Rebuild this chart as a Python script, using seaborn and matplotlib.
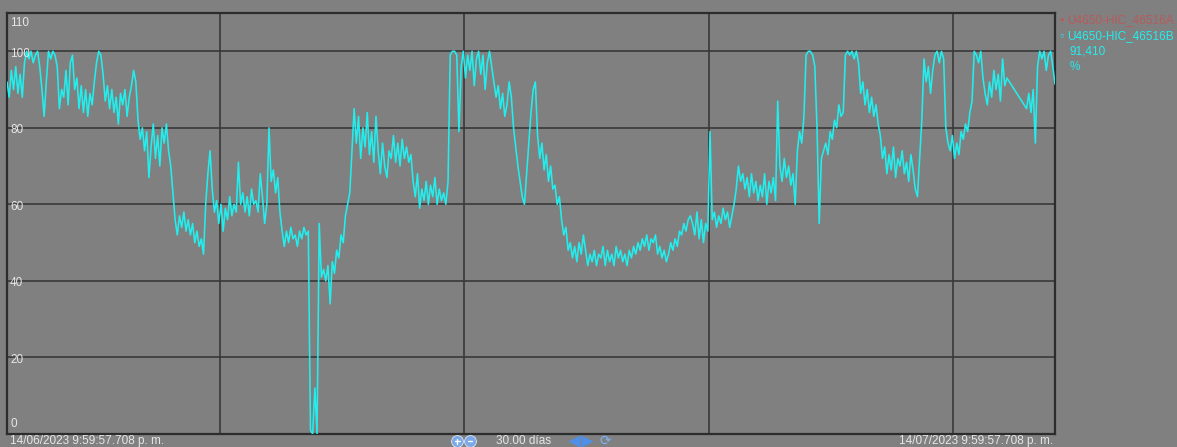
import numpy as np
import pandas as pd
import matplotlib
matplotlib.use("Agg")
import matplotlib.pyplot as plt
from matplotlib.lines import Line2D
import seaborn as sns

# --- data -------------------------------------------------------------------
inicio = pd.Timestamp("2023-06-14 21:59:57.708")
fin = pd.Timestamp("2023-07-14 21:59:57.708")
etiqueta_inicio = "14/06/2023 9:59:57.708 p. m."
etiqueta_fin = "14/07/2023 9:59:57.708 p. m."
ventana = "30.00 días"

series = ["U4650-HIC_46516A", "U4650-HIC_46516B"]
unidad = "%"

marcas_y = [0, 20, 40, 60, 80, 100, 110]
semanas = ["2023-06-21", "2023-06-28", "2023-07-05", "2023-07-12"]

# U4650-HIC_46516B, evenly spaced readings (None = no reading logged)
valores_b = [
    92, 88, 95, 90, 96, 89, 94, 88, 97,
    100, 98, 100, 97, 99, 100, 96,
    90, 83, 92,
    100, 98, 100, 99, 96,
    85, 90,
    88, 95, 86, 97, 99, 90, 93,
    85, 91, 84, 90, 83, 89, 86, 92,
    97, 100, 99, 94,
    87, 91, 85, 90, 84, 88, 81, 89, 86, 90, 83, 88,
    91, 95, 92,
    82, 77,
    80, 74, 79, 67, 75, 81, 72, 78, 70, 80, 76, 81, 74, 70,
    63, 56, 52,
    57, 54, 58, 53, 56, 52, 55, 50, 53, 49, 51, 47,
    60, 68, 74, 64,
    58, 61, 55, 60, 53, 59, 56, 62, 57, 60, 58,
    71,
    60, 63, 58, 62, 57, 64, 60, 61, 58, 68, 62,
    55, 60,
    80,
    66, 69, 63, 67,
    58, 53, 49,
    53, 50, 54, 51, 52, 49, 53, 51, 54, 52, 53,
    1, 0, 12, 0,
    55,
    41, 43, 40, 44, 34,
    45, 42, 48, 46, 52, 50, 57, 60, 63,
    74, 85,
    76, 83, 72, 80, 75, 84, 73, 79, 71, 83,
    74, 68, 76, 70, 67, 74,
    72, 78, 71, 76, 70, 77, 72, 75, 71, 73,
    66, 62, 68, 59,
    64, 61, 66, 60, 65, 62, 67, 60, 64, 61, 63, 60, 66,
    99, 100, 100, 99,
    79,
    96, 100, 93, 99, 95, 100, 91, 98, 100, 94, 99, 90, 97, 100, 96, 92,
    88, 91, 85, 89, 83, 86,
    92, 88, 80,
    75, 70, 66, 62, 60,
    68, 76, 84, 90, 92,
    78, 72, 76, 69, 73, 66, 70, 64, 65, 60, 62,
    56, 52, 54, 48, 50, 46,
    49, 45, 50, 47, 52, 48, 44, 47,
    45, 48, 44, 47, 46, 49, 44, 48, 45, 47, 44, 49, 46, 48, 45, 47, 44, 48, 46, 49, 47, 50,
    48, 51, 49, 52, 48, 51, 50, 52, 47,
    49, 46, 48, 45, 47, 50, 48,
    51, 49, 53, 52, 55, 53, 56, 57,
    55, 52, 58, 51, 56, 50, 55, 53,
    79,
    56, 58, 54, 57, 55, 59, 56, 58, 54, 57, 60,
    64, 70, 66, 68,
    64, 67, 62, 68, 63, 66, 61, 65, 62, 68, 60, 66, 63, 67, 61,
    87,
    70, 66, 72, 67, 70, 65, 68, 60,
    74, 79, 76, 83,
    99, 100, 100, 99, 96,
    80,
    55,
    72, 74, 76, 73, 79, 77, 82, 80, 86, 83, 84,
    99, 100, 99, 100, 98, 100, 97,
    89, 92, 86, 90, 84, 88, 83, 86, 81,
    78, 72, 75, 68,
    73, 69, 75, 67, 72, 70, 74, 68, 71, 66, 73, 69, 64, 62,
    72, 82, 98,
    92, 96, 89, 95,
    99, 100, 97, 100, 98,
    80, 76,
    74, 78, 72, 76, 73, 79,
    77, 81, 79, 84, 87,
    100, 99, 97, 100,
    93, 89, 86,
    92, 88, 95, 90, 94, 87, 98, 91, 93,
    None, None, None, None, None, None, None, None,
    85, 89, 84, 90, 76,
    96, 100, 98, 100, 95, 99, 100, 96,
    91.41,
]

# --- styling ----------------------------------------------------------------
fondo = "#808080"
rejilla = "#383838"
texto = "#e6e6e6"
cian = "#22eeee"
rojo = "#b85a5a"

sns.set_style("dark")
plt.rcParams["font.family"] = ["Liberation Sans", "DejaVu Sans"]

tiempos = pd.date_range(inicio, fin, periods=len(valores_b))
df = pd.DataFrame({"tiempo": tiempos,
                   "valor": pd.to_numeric(pd.Series(valores_b), errors="coerce")})
df = df.dropna()

fig = plt.figure(figsize=(11.77, 4.47), dpi=100, facecolor=fondo)
W, H = 1177, 447
ax = fig.add_axes([7 / W, (H - 434) / H, (1055 - 7) / W, (434 - 13) / H])
ax.set_facecolor(fondo)

# grid first, then the trace on top
for f in semanas:
    ax.axvline(pd.Timestamp(f), color=rejilla, lw=1.2, zorder=1)
for v in marcas_y[1:-1]:
    ax.axhline(v, color=rejilla, lw=1.2, zorder=1)

sns.lineplot(data=df, x="tiempo", y="valor", ax=ax, color=cian, lw=1.15,
             estimator=None, sort=True, zorder=3)

ax.set_xlim(inicio, fin)
ax.set_ylim(0, 110)
ax.set_xticks([])
ax.set_yticks([])
ax.set_xlabel("")
ax.set_ylabel("")
ax.grid(False)
for s in ax.spines.values():
    s.set_visible(True)
    s.set_color("#2c2c2c")
    s.set_linewidth(1.6)

# value labels inside the left edge
for v in marcas_y:
    va = "top" if v == 110 else ("bottom" if v == 0 else "center")
    dy = -1.0 if v == 110 else (1.0 if v == 0 else -0.6)
    ax.text(0.003, v + dy, str(v), transform=ax.get_yaxis_transform(),
            color=texto, fontsize=8.5, va=va, ha="left", zorder=4)

# series panel on the right
lectura = valores_b[-1]
fs = 8.5
fig.text(1059 / W, 1 - 20 / H, "●", color=rojo, fontsize=5.5, va="center", ha="left")
fig.text(1067 / W, 1 - 20 / H, series[0], color=rojo, fontsize=fs, va="center", ha="left")
fig.text(1059 / W, 1 - 36 / H, "○", color=cian, fontsize=5.5, va="center", ha="left")
fig.text(1067 / W, 1 - 36 / H, series[1], color=cian, fontsize=fs, va="center", ha="left")
fig.text(1070 / W, 1 - 51 / H, f"{lectura:.3f}".replace(".", ","), color=cian,
         fontsize=fs, va="center", ha="left")
fig.text(1070 / W, 1 - 67 / H, unidad, color=cian, fontsize=fs, va="center", ha="left")

# bottom bar: time range and navigation controls
yb = 1 - 441 / H
fig.text(10 / W, yb, etiqueta_inicio, color=texto, fontsize=fs, va="center", ha="left")
fig.text(1053 / W, yb, etiqueta_fin, color=texto, fontsize=fs, va="center", ha="right")
fig.text(524 / W, yb, ventana, color=texto, fontsize=fs, va="center", ha="center")

# zoom buttons: blue discs with +/- and an orange base
for cx, signo in ((457, "+"), (470, "−")):
    fig.add_artist(Line2D([cx / W], [1 - 445 / H], marker="o", ms=5,
                          color="#e08a30", mec="none", transform=fig.transFigure))
    fig.add_artist(Line2D([cx / W], [1 - 441 / H], marker="o", ms=8.5,
                          color="#7aa8e8", mec="#dfe8f5", mew=0.6,
                          transform=fig.transFigure))
    fig.add_artist(Line2D([(cx - 2.5) / W, (cx + 2.5) / W], [1 - 441 / H] * 2,
                          color="white", lw=1.0, transform=fig.transFigure))
    if signo == "+":
        fig.add_artist(Line2D([cx / W] * 2, [1 - 438.5 / H, 1 - 443.5 / H],
                              color="white", lw=1.0, transform=fig.transFigure))

# pan arrows and refresh
fig.add_artist(Line2D([574 / W], [yb], marker="<", ms=8, color="#4f8fe8",
                      mec="none", transform=fig.transFigure))
fig.add_artist(Line2D([587 / W], [yb], marker=">", ms=8, color="#4f8fe8",
                      mec="none", transform=fig.transFigure))
fig.text(605 / W, yb, "⟳", color="#7fb0f0", fontsize=10, va="center", ha="center",
         family="DejaVu Sans")

fig.savefig("out.png", dpi=100, facecolor=fondo)
